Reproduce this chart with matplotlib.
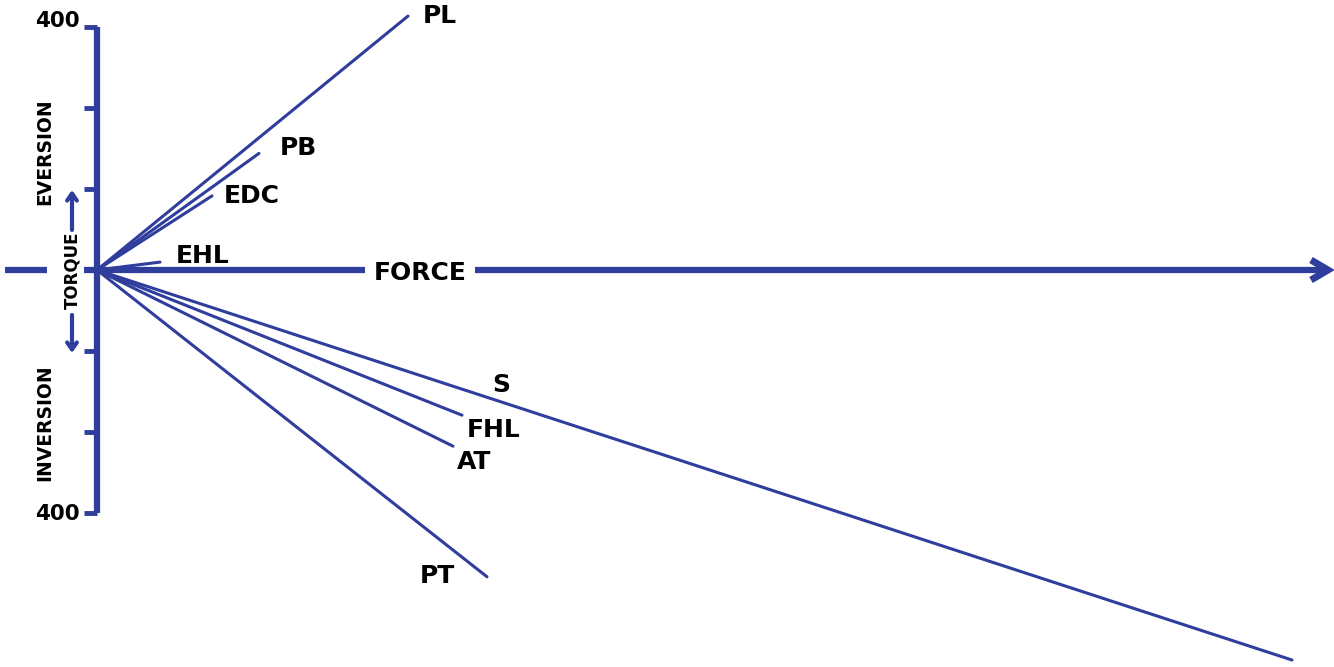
import matplotlib
matplotlib.use("Agg")
import matplotlib.pyplot as plt
import numpy as np

# ---- data (force vs torque endpoints of each muscle vector) ----
muscles = ["PL", "PB", "EDC", "EHL", "S", "FHL", "AT", "PT"]
force = [311, 162, 115, 63, 1195, 365, 356, 390]
torque = [418, 192, 122, 13, -642, -239, -290, -505]
torque_ticks = [400, 266.7, 133.3, 0, -133.3, -266.7, -400]

BLUE = "#2f3e9c"
W, H = 1334, 667
fig = plt.figure(figsize=(W / 100, H / 100), dpi=100)
ax = fig.add_axes([0, 0, 1, 1])
PX_T = 0.6075  # pixels per torque unit
ax.set_xlim(-97, W - 97)
ax.set_ylim((270 - H) / PX_T, 270 / PX_T)
ax.axis("off")

def px(n):  # pixel length -> torque units
    return n / PX_T

# vertical torque axis
ax.plot([0, 0], [400, -400], color=BLUE, lw=4.5, solid_capstyle="butt", zorder=3)
for t in torque_ticks:
    ax.plot([-13, 0], [t, t], color=BLUE, lw=3.5, solid_capstyle="butt", zorder=3)
ax.text(-17, 400 + px(6), "400", ha="right", va="center", fontsize=15.5,
        fontweight="bold", color="black")
ax.text(-17, -400 - px(1), "400", ha="right", va="center", fontsize=15.5,
        fontweight="bold", color="black")

# horizontal force axis
ax.plot([-92, -50], [0, 0], color=BLUE, lw=4.5, solid_capstyle="butt", zorder=3)
ax.plot([-13, 1231], [0, 0], color=BLUE, lw=4.5, solid_capstyle="butt", zorder=3)
ax.plot([1214, 1231, 1214], [px(10), 0, -px(10)], color=BLUE, lw=5,
        solid_joinstyle="miter", solid_capstyle="butt", zorder=3)
ax.text(323, px(-3), "FORCE", ha="center", va="center", fontsize=18,
        fontweight="bold", color="black", zorder=5,
        bbox=dict(facecolor="white", edgecolor="none", pad=6))

# muscle vectors
for f, t in zip(force, torque):
    ax.plot([0, f], [0, t], color=BLUE, lw=2.2, solid_capstyle="round", zorder=2)

# labels (offsets in pixels from vector end)
label_off = {"PL": (15, 0, "left"), "PB": (21, 5, "left"), "EDC": (12, 0, "left"),
             "EHL": (16, 6, "left"), "FHL": (5, -15, "left"), "AT": (4, -16, "left"),
             "PT": (-32, 1, "right")}
for m, f, t in zip(muscles, force, torque):
    if m == "S":
        frac = 0.335
        ax.text(f * frac - 5, t * frac + px(16), m, ha="left", va="center",
                fontsize=18, fontweight="bold", color="black")
        continue
    dx, dy, ha = label_off[m]
    ax.text(f + dx, t + px(dy), m, ha=ha, va="center", fontsize=18,
            fontweight="bold", color="black")

# torque double arrow with label
ax.annotate("", xy=(-25, px(80)), xytext=(-25, px(40)),
            arrowprops=dict(arrowstyle="->,head_length=0.5,head_width=0.35",
                            color=BLUE, lw=3, shrinkA=0, shrinkB=0))
ax.annotate("", xy=(-25, -px(83)), xytext=(-25, -px(45)),
            arrowprops=dict(arrowstyle="->,head_length=0.5,head_width=0.35",
                            color=BLUE, lw=3, shrinkA=0, shrinkB=0))
ax.text(-25, 0, "TORQUE", rotation=90, ha="center", va="center", fontsize=12,
        fontweight="bold", color="black")
ax.text(-52, px(118), "EVERSION", rotation=90, ha="center", va="center",
        fontsize=13.5, fontweight="bold", color="black")
ax.text(-52, -px(153), "INVERSION", rotation=90, ha="center", va="center",
        fontsize=13.5, fontweight="bold", color="black")

fig.savefig("out.png", dpi=100, facecolor="white")
